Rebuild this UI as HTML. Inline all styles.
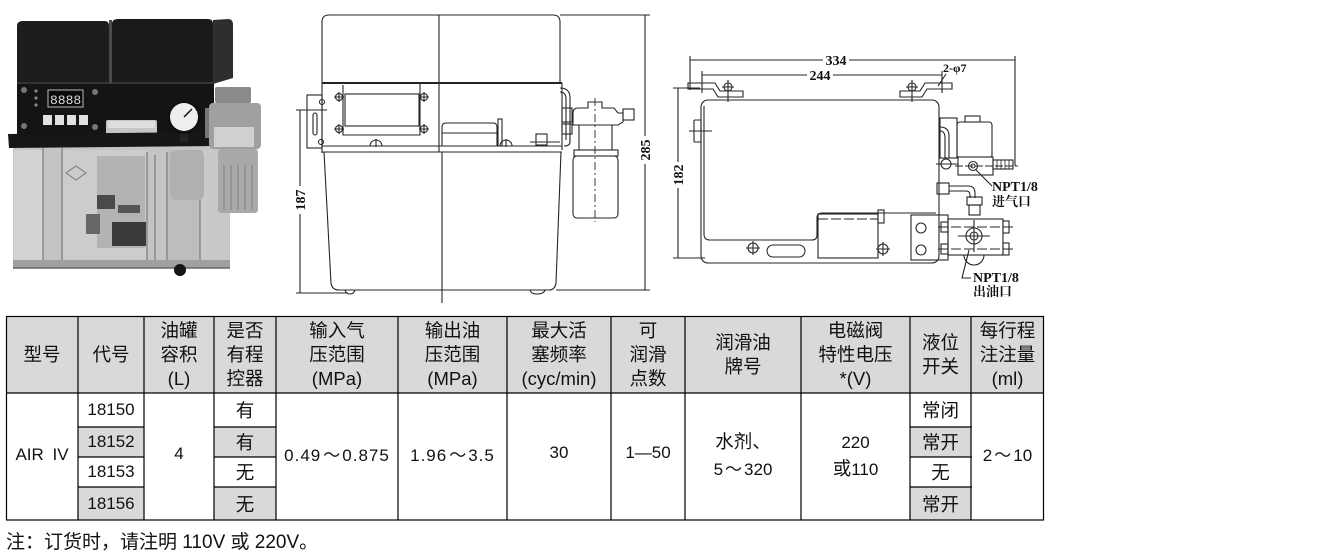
<!DOCTYPE html>
<html><head><meta charset="utf-8">
<style>
html,body{margin:0;padding:0;background:#fff;}
body{width:1333px;height:558px;position:relative;overflow:hidden;font-family:"Liberation Sans","Noto Sans CJK SC",sans-serif;color:#111;}
.c{position:absolute;display:flex;align-items:center;justify-content:center;text-align:center;box-sizing:border-box;white-space:nowrap;}
.h{top:316px;height:77px;font-size:18.5px;line-height:24px;}
.n{font-size:17px;}
.z{font-size:18.5px;}
.t{font-family:"Noto Sans CJK SC",sans-serif;}
</style></head><body>
<svg width="1333" height="558" viewBox="0 0 1333 558" style="position:absolute;left:0;top:0">
<!-- ============ PHOTO ============ -->
<g>
 <rect x="13" y="146" width="217" height="122" fill="#c4c4c4"/>
 <rect x="14" y="150" width="29" height="114" fill="#d3d3d3"/>
 <rect x="62" y="150" width="85" height="114" fill="#cccccc"/>
 <rect x="167" y="150" width="33" height="114" fill="#bdbdbd"/>
 <rect x="200" y="150" width="29" height="114" fill="#c9c9c9"/>
 <g stroke="#8a8a8a" stroke-width="1.5">
  <line x1="43" y1="148" x2="43" y2="264"/>
  <line x1="62" y1="148" x2="62" y2="264"/>
  <line x1="147" y1="152" x2="147" y2="264"/>
  <line x1="155" y1="155" x2="155" y2="264"/>
  <line x1="167" y1="152" x2="167" y2="264"/>
  <line x1="200" y1="150" x2="200" y2="264"/>
 </g>
 <rect x="97" y="156" width="48" height="92" fill="#b3b3b3"/>
 <polygon points="66,173 76,166 86,173 76,180" fill="none" stroke="#888" stroke-width="1.2"/>
 <rect x="97" y="195" width="18" height="14" fill="#4a4a4a"/>
 <rect x="86" y="214" width="14" height="20" fill="#666"/>
 <rect x="112" y="222" width="34" height="24" fill="#3a3a3a"/>
 <rect x="118" y="205" width="22" height="8" fill="#555"/>
 <rect x="170" y="150" width="34" height="50" rx="6" fill="#b0b0b0"/>
 <rect x="13" y="260" width="217" height="8" fill="#a0a0a0"/>
 <line x1="13" y1="268" x2="230" y2="268" stroke="#666" stroke-width="1.5"/>
 <circle cx="180" cy="270" r="6" fill="#151515"/>
 <!-- control band -->
 <rect x="17" y="83" width="197" height="51" fill="#141414"/>
 <rect x="48" y="90" width="35" height="17" fill="#0a0a0a" stroke="#bbb" stroke-width="1"/>
 <text x="50" y="104" font-family="Liberation Mono, monospace" font-size="13" fill="#dcdcdc">8888</text>
 <circle cx="36" cy="91" r="1.6" fill="#888"/><circle cx="36" cy="98" r="1.6" fill="#888"/><circle cx="36" cy="105" r="1.6" fill="#888"/>
 <rect x="43" y="115" width="9" height="10" fill="#e0e0e0"/>
 <rect x="55" y="115" width="9" height="10" fill="#e0e0e0"/>
 <rect x="67" y="115" width="9" height="10" fill="#e0e0e0"/>
 <rect x="79" y="115" width="9" height="10" fill="#e0e0e0"/>
 <circle cx="24" cy="90" r="3" fill="#777"/><circle cx="95" cy="92" r="3" fill="#777"/>
 <circle cx="24" cy="126" r="3" fill="#777"/><circle cx="95" cy="127" r="3" fill="#777"/>
 <!-- covers -->
 <path d="M17,84 L17,26 Q17,21 23,21 L105,21 Q109,21 109,26 L109,84 Z" fill="#1d1d1d"/>
 <path d="M112,84 L112,24 Q112,19 118,19 L208,19 Q213,19 213,24 L213,84 Z" fill="#1a1a1a"/>
 <path d="M213,20 L228,19 Q233,19 233,25 L233,78 L213,84 Z" fill="#2e2e2e"/>
 <rect x="109" y="20" width="3" height="64" fill="#4a4a4a"/>
 <line x1="17" y1="83" x2="213" y2="83" stroke="#3c3c3c" stroke-width="1.5"/>
 <!-- label block -->
 <rect x="106" y="120" width="51" height="16" rx="2" fill="#c6c6c6"/>
 <rect x="108" y="121" width="47" height="7" fill="#dedede"/>
 <!-- tray -->
 <polygon points="8,134 215,132 216,146 9,148" fill="#161616"/>
 <!-- filter -->
 <rect x="205" y="108" width="10" height="30" fill="#777"/>
 <rect x="215" y="87" width="36" height="16" rx="2" fill="#8a8a8a"/>
 <rect x="209" y="103" width="52" height="46" rx="4" fill="#a0a0a0"/>
 <rect x="214" y="127" width="40" height="20" fill="#d0d0d0"/>
 <rect x="218" y="149" width="40" height="64" rx="3" fill="#a9a9a9"/>
 <g stroke="#858585" stroke-width="1.2">
  <line x1="224" y1="165" x2="224" y2="210"/><line x1="231" y1="165" x2="231" y2="210"/>
  <line x1="238" y1="165" x2="238" y2="210"/><line x1="245" y1="165" x2="245" y2="210"/>
  <line x1="252" y1="165" x2="252" y2="210"/>
 </g>
 <!-- gauge -->
 <rect x="180" y="132" width="8" height="11" fill="#222"/>
 <circle cx="184" cy="117" r="17" fill="#111"/>
 <circle cx="184" cy="117" r="14" fill="#eeeeee"/>
 <line x1="184" y1="117" x2="192" y2="109" stroke="#111" stroke-width="1.5"/>
</g>

<!-- ============ MIDDLE DRAWING ============ -->
<g stroke="#252525" stroke-width="1.1" fill="none">
 <path d="M322,83 L322,22 Q322,15 329,15 L553,15 Q560,15 560,22 L560,83"/>
 <line x1="439" y1="15" x2="439" y2="152"/>
 <line x1="322" y1="83" x2="562" y2="83" stroke-width="2"/>
 <line x1="322" y1="83" x2="322" y2="153"/>
 <line x1="562" y1="83" x2="562" y2="150"/>
 <line x1="322" y1="146" x2="562" y2="146"/>
 <line x1="322" y1="152" x2="562" y2="152"/>
 <path d="M324,152 L331,283 Q332,290 339,290 L549,290 Q555,290 556,283 L561,152"/>
 <path d="M345,290 Q346,294 350,294 Q354,294 355,290"/>
 <path d="M530,290 Q531,294 537,294 Q544,294 545,290"/>
 <line x1="442" y1="152" x2="442" y2="303"/>
 <!-- window -->
 <path d="M343,85 L343,135 L420,135 L420,83"/>
 <rect x="345" y="94" width="74" height="32"/>
 <!-- screws -->
 <g>
  <circle cx="339" cy="97" r="3.5"/><path d="M334,97 H344 M339,92 V102"/>
  <circle cx="424" cy="97" r="3.5"/><path d="M419,97 H429 M424,92 V102"/>
  <circle cx="339" cy="129" r="3.5"/><path d="M334,129 H344 M339,124 V134"/>
  <circle cx="424" cy="129" r="3.5"/><path d="M419,129 H429 M424,124 V134"/>
  <path d="M370,146 A6,6 0 0 1 382,146 M376,139 V147"/>
  <path d="M500,146 A6,6 0 0 1 512,146 M506,139 V147"/>
  <circle cx="322" cy="102" r="2.5"/><circle cx="321" cy="142" r="2.5"/>
 </g>
 <!-- left bracket -->
 <rect x="307" y="95" width="15" height="53"/>
 <rect x="313" y="113" width="4" height="22" rx="2"/>
 <line x1="296" y1="110" x2="327" y2="110"/>
 <!-- handle -->
 <path d="M442,146 L442,127 Q442,123 446,123 L493,123 Q497,123 497,127 L497,146"/>
 <line x1="442" y1="133" x2="497" y2="133"/>
 <rect x="498" y="119" width="4" height="27"/>
 <rect x="536" y="134" width="11" height="11"/>
 <line x1="530" y1="142" x2="560" y2="142"/>
 <!-- pipe right -->
 <path d="M560,88 Q570,88 570,98 L570,142 Q570,146 564,146"/>
 <path d="M560,92 Q566,92 566,99 L566,140"/>
 <rect x="562" y="108" width="10" height="14"/>
 <rect x="562" y="124" width="10" height="10"/>
 <!-- filter -->
 <path d="M573,125 L573,113 Q573,108 578,108 L588,108 L588,102 L602,102 L602,108 L614,108 L618,113 L623,113 L623,122 L618,125 Z"/>
 <rect x="623" y="109" width="11" height="11"/>
 <path d="M579,125 L579,150 M612,125 L612,150"/>
 <rect x="574" y="150" width="44" height="6"/>
 <rect x="573" y="156" width="45" height="62" rx="4"/>
 <line x1="595" y1="98" x2="595" y2="222" stroke-dasharray="8 3 2 3" stroke-width="0.9"/>
 <!-- dims -->
 <line x1="645" y1="15" x2="645" y2="290"/>
 <line x1="560" y1="15" x2="650" y2="15"/>
 <line x1="556" y1="290" x2="650" y2="290"/>
 <line x1="300" y1="110" x2="300" y2="293"/>
 <line x1="296" y1="293" x2="348" y2="293"/>
</g>
<rect x="638" y="136" width="14" height="28" fill="#fff"/>
<text transform="translate(650,150) rotate(-90)" text-anchor="middle" font-family="Liberation Serif, serif" font-weight="bold" font-size="14" fill="#111">285</text>
<rect x="294" y="186" width="12" height="28" fill="#fff"/>
<text transform="translate(305,200) rotate(-90)" text-anchor="middle" font-family="Liberation Serif, serif" font-weight="bold" font-size="14" fill="#111">187</text>

<!-- ============ RIGHT DRAWING ============ -->
<g stroke="#252525" stroke-width="1.1" fill="none">
 <line x1="690" y1="60" x2="1015" y2="60"/>
 <line x1="690" y1="56" x2="690" y2="90"/>
 <line x1="1015" y1="56" x2="1015" y2="166"/>
 <line x1="702" y1="75" x2="942" y2="75"/>
 <line x1="702" y1="71" x2="702" y2="93"/>
 <line x1="942" y1="71" x2="942" y2="93"/>
 <line x1="946" y1="74" x2="938" y2="86"/>
 <line x1="678" y1="88" x2="678" y2="258"/>
 <line x1="673" y1="88" x2="700" y2="88"/>
 <line x1="673" y1="258" x2="705" y2="258"/>
 <!-- plate -->
 <rect x="701" y="100" width="238" height="163" rx="7"/>
 <path d="M704,106 L704,234 Q704,240 710,240 L812,240 Q817,240 817,235 L817,218 Q817,213 822,213 L936,213"/>
 <rect x="818" y="214" width="60" height="44"/>
 <line x1="818" y1="219" x2="878" y2="219" stroke-dasharray="10 3"/>
 <rect x="878" y="210" width="6" height="13"/>
 <rect x="767" y="245" width="38" height="12" rx="6"/>
 <circle cx="753" cy="248" r="5"/><path d="M746,248 H760 M753,241 V255"/>
 <circle cx="883" cy="249" r="5"/><path d="M876,249 H890 M883,242 V256"/>
 <!-- brackets -->
 <path d="M688,83 L715,83 L720,91 L743,91 L743,97 L718,97 L713,89 L688,89 Z"/>
 <circle cx="728" cy="87" r="4"/><path d="M722,87 H734 M728,80 V102"/>
 <path d="M952,83 L925,83 L920,91 L900,91 L900,97 L922,97 L927,89 L952,89 Z"/>
 <circle cx="912" cy="87" r="4"/><path d="M906,87 H918 M912,80 V102"/>
 <!-- side tab -->
 <rect x="694" y="120" width="7" height="22" rx="1"/>
 <line x1="689" y1="131" x2="712" y2="131"/>
 <!-- solenoid -->
 <rect x="940" y="118" width="17" height="40"/>
 <rect x="957" y="122" width="35" height="36" rx="3"/>
 <rect x="965" y="116" width="15" height="6"/>
 <path d="M940,127 Q949,127 949,136 L949,158"/>
 <path d="M940,131 Q945,131 945,138 L945,158"/>
 <circle cx="946" cy="164" r="5" fill="#fff"/>
 <line x1="936" y1="164" x2="960" y2="164"/>
 <rect x="958" y="157" width="35" height="18" fill="#fff"/>
 <circle cx="973" cy="166" r="4.5"/><circle cx="973" cy="166" r="2"/>
 <line x1="955" y1="166" x2="1018" y2="166" stroke-dasharray="8 2"/>
 <rect x="993" y="160" width="20" height="9"/>
 <path d="M997,160 V169 M1001,160 V169 M1005,160 V169 M1009,160 V169" stroke-width="0.8"/>
 <!-- pipe -->
 <rect x="937" y="183" width="12" height="11"/>
 <path d="M949,186 L968,186 Q975,186 975,193 L975,198"/>
 <path d="M949,191 L966,191 Q970,191 970,195 L970,198"/>
 <rect x="967" y="197" width="15" height="8"/>
 <rect x="969" y="205" width="11" height="10"/>
 <!-- lower block -->
 <rect x="911" y="215" width="37" height="45"/>
 <circle cx="921" cy="228" r="5"/><circle cx="921" cy="250" r="5"/>
 <rect x="948" y="219" width="55" height="36"/>
 <rect x="941" y="222" width="7" height="10"/><rect x="941" y="244" width="7" height="10"/>
 <rect x="1003" y="221" width="6" height="12"/><rect x="1003" y="243" width="6" height="12"/>
 <line x1="938" y1="227" x2="1013" y2="227" stroke-dasharray="10 3"/>
 <line x1="938" y1="249" x2="1013" y2="249" stroke-dasharray="10 3"/>
 <circle cx="974" cy="236" r="8"/><circle cx="974" cy="236" r="4"/>
 <path d="M958,236 H990 M974,220 V252"/>
 <path d="M964,255 A10,10 0 0 0 984,255"/>
 <!-- leaders -->
 <line x1="976" y1="170" x2="992" y2="186"/>
 <path d="M969,250 L962,278 L971,278"/>
</g>
<rect x="823" y="53" width="26" height="14" fill="#fff"/>
<text x="836" y="65" text-anchor="middle" font-family="Liberation Serif, serif" font-weight="bold" font-size="14" fill="#111">334</text>
<rect x="807" y="68" width="26" height="14" fill="#fff"/>
<text x="820" y="80" text-anchor="middle" font-family="Liberation Serif, serif" font-weight="bold" font-size="14" fill="#111">244</text>
<text x="943" y="72" font-family="Liberation Serif, serif" font-weight="bold" font-size="12" fill="#111">2-φ7</text>
<rect x="671" y="162" width="13" height="26" fill="#fff"/>
<text transform="translate(683,175) rotate(-90)" text-anchor="middle" font-family="Liberation Serif, serif" font-weight="bold" font-size="14" fill="#111">182</text>
<text x="992" y="191" font-family="Liberation Serif, serif" font-weight="bold" font-size="14" fill="#111">NPT1/8</text>
<text x="992" y="206" font-family="Noto Serif CJK SC, serif" font-weight="bold" font-size="13" fill="#111">进气口</text>
<text x="973" y="282" font-family="Liberation Serif, serif" font-weight="bold" font-size="14" fill="#111">NPT1/8</text>
<text x="973" y="296" font-family="Noto Serif CJK SC, serif" font-weight="bold" font-size="13" fill="#111">出油口</text>

<!-- ============ TABLE ============ -->
<rect x="6" y="316" width="1038" height="77" fill="#d9d9d9"/>
<g fill="#d9d9d9">
 <rect x="78" y="427" width="66" height="30"/><rect x="78" y="487" width="66" height="33"/>
 <rect x="214" y="427" width="62" height="30"/><rect x="214" y="487" width="62" height="33"/>
 <rect x="910" y="427" width="61" height="30"/><rect x="910" y="487" width="61" height="33"/>
</g>
<g stroke="#000" stroke-width="1.2" fill="none">
 <rect x="6.5" y="316.5" width="1037" height="203.5"/>
 <line x1="6" y1="393" x2="1044" y2="393"/>
 <line x1="78" y1="316" x2="78" y2="520"/>
 <line x1="144" y1="316" x2="144" y2="520"/>
 <line x1="214" y1="316" x2="214" y2="520"/>
 <line x1="276" y1="316" x2="276" y2="520"/>
 <line x1="398" y1="316" x2="398" y2="520"/>
 <line x1="507" y1="316" x2="507" y2="520"/>
 <line x1="611" y1="316" x2="611" y2="520"/>
 <line x1="685" y1="316" x2="685" y2="520"/>
 <line x1="801" y1="316" x2="801" y2="520"/>
 <line x1="910" y1="316" x2="910" y2="520"/>
 <line x1="971" y1="316" x2="971" y2="520"/>
 <path d="M78,427 H144 M78,457 H144 M78,487 H144"/>
 <path d="M214,427 H276 M214,457 H276 M214,487 H276"/>
 <path d="M910,427 H972 M910,457 H972 M910,487 H972"/>
</g>
</svg>

<!-- header -->
<div class="c h" style="left:6px;width:72px"><div>型号</div></div>
<div class="c h" style="left:78px;width:66px"><div>代号</div></div>
<div class="c h" style="left:144px;width:70px"><div>油罐<br>容积<br>(L)</div></div>
<div class="c h" style="left:214px;width:62px"><div>是否<br>有程<br>控器</div></div>
<div class="c h" style="left:276px;width:122px"><div>输入气<br>压范围<br>(MPa)</div></div>
<div class="c h" style="left:398px;width:109px"><div>输出油<br>压范围<br>(MPa)</div></div>
<div class="c h" style="left:507px;width:104px"><div>最大活<br>塞频率<br>(cyc/min)</div></div>
<div class="c h" style="left:611px;width:74px"><div>可<br>润滑<br>点数</div></div>
<div class="c h" style="left:685px;width:116px"><div>润滑油<br>牌号</div></div>
<div class="c h" style="left:801px;width:109px"><div>电磁阀<br>特性电压<br>*(V)</div></div>
<div class="c h" style="left:910px;width:61px"><div>液位<br>开关</div></div>
<div class="c h" style="left:971px;width:73px"><div>每行程<br>注注量<br>(ml)</div></div>

<!-- body -->
<div class="c n" style="left:6px;width:72px;top:393px;height:124px;word-spacing:4px"><div>AIR IV</div></div>
<div class="c n" style="left:78px;width:66px;top:393px;height:34px"><div>18150</div></div>
<div class="c n" style="left:78px;width:66px;top:427px;height:30px"><div>18152</div></div>
<div class="c n" style="left:78px;width:66px;top:457px;height:30px"><div>18153</div></div>
<div class="c n" style="left:78px;width:66px;top:487px;height:33px"><div>18156</div></div>
<div class="c n" style="left:144px;width:70px;top:393px;height:122px"><div>4</div></div>
<div class="c z" style="left:214px;width:62px;top:393px;height:34px"><div>有</div></div>
<div class="c z" style="left:214px;width:62px;top:427px;height:30px"><div>有</div></div>
<div class="c z" style="left:214px;width:62px;top:457px;height:30px"><div>无</div></div>
<div class="c z" style="left:214px;width:62px;top:487px;height:33px"><div>无</div></div>
<div class="c n" style="left:276px;width:122px;top:393px;height:120px;letter-spacing:1px"><div>0.49<span class="t" style="letter-spacing:0;margin:0 2px">～</span>0.875</div></div>
<div class="c n" style="left:398px;width:109px;top:393px;height:120px;letter-spacing:1px"><div>1.96<span class="t" style="letter-spacing:0;margin:0 2px">～</span>3.5</div></div>
<div class="c n" style="left:507px;width:104px;top:393px;height:120px"><div>30</div></div>
<div class="c n" style="left:611px;width:74px;top:393px;height:120px"><div>1—50</div></div>
<div class="c z" style="left:685px;width:116px;top:393px;height:125px;line-height:26px"><div>水剂、<br><span style="font-size:17px">5<span class="t" style="margin:0 2px">～</span>320</span></div></div>
<div class="c z" style="left:801px;width:109px;top:393px;height:125px;line-height:26px"><div><span style="font-size:17px">220</span><br>或<span style="font-size:17px">110</span></div></div>
<div class="c z" style="left:910px;width:61px;top:393px;height:34px"><div>常闭</div></div>
<div class="c z" style="left:910px;width:61px;top:427px;height:30px"><div>常开</div></div>
<div class="c z" style="left:910px;width:61px;top:457px;height:30px"><div>无</div></div>
<div class="c z" style="left:910px;width:61px;top:487px;height:33px"><div>常开</div></div>
<div class="c n" style="left:971px;width:73px;top:393px;height:120px"><div>2<span class="t" style="margin:0 2px">～</span>10</div></div>

<!-- note -->
<div style="position:absolute;left:6px;top:530px;font-size:19px;line-height:26px;white-space:nowrap">注：订货时，请注明 110V 或 220V。</div>
</body></html>
